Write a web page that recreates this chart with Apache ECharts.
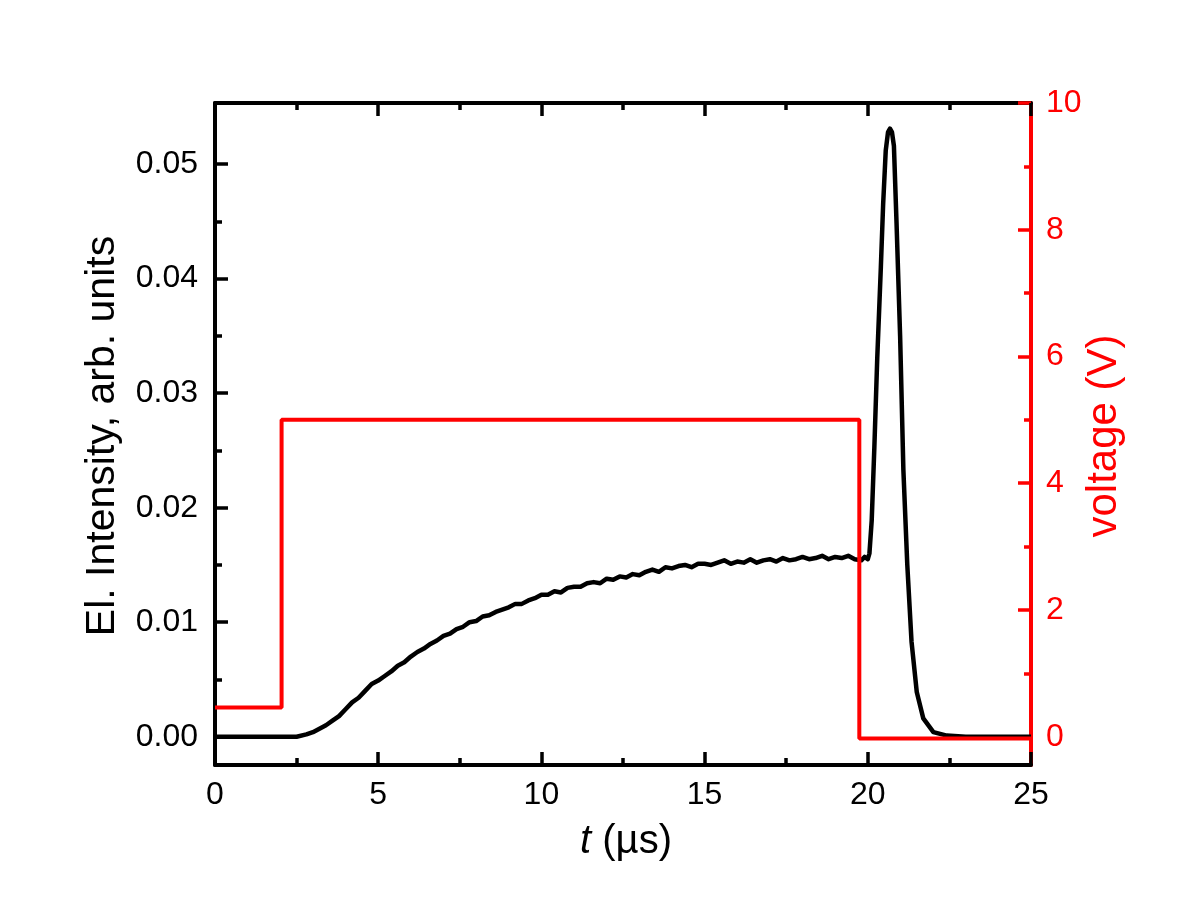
<!DOCTYPE html>
<html>
<head>
<meta charset="utf-8">
<script src="https://cdn.jsdelivr.net/npm/echarts@6/dist/echarts.min.js"></script>
<style>
html,body{margin:0;padding:0;background:#fff;}
#c{width:1200px;height:918px;}
</style>
</head>
<body>
<div id="c"></div>
<script>
// ---- data ----
var timeUs = [0,0.5,1,1.5,2,2.5,2.8,3.0,3.2,3.4,3.6,3.8,
  4.0,4.2,4.4,4.6,4.8,5.0,5.2,5.4,5.6,5.8,6.0,6.2,6.4,6.6,6.8,7.0,7.2,7.4,7.6,7.8,
  8.0,8.2,8.4,8.6,8.8,9.0,9.2,9.4,9.6,9.8,10.0,10.2,10.4,10.6,10.8,11.0,11.2,11.4,11.6,11.8,
  12.0,12.2,12.4,12.6,12.8,13.0,13.2,13.4,13.6,13.8,14.0,14.2,14.4,14.6,14.8,15.0,15.2,15.4,15.6,15.8,
  16.0,16.2,16.4,16.6,16.8,17.0,17.2,17.4,17.6,17.8,18.0,18.2,18.4,18.6,18.8,19.0,19.2,19.4,19.6,19.8,
  19.9,20.0,20.05,20.12,20.20,20.29,20.40,20.47,20.55,20.62,20.68,20.74,20.80,20.88,20.99,21.09,21.21,21.34,21.50,21.70,22.01,22.42,23.0,24.0,25.0];
var intensity = [0.0000,0.0000,0.0000,0.0000,0.0000,0.0000,0.0002,0.0004,0.0007,0.0010,0.0014,0.0018,
  0.0024,0.0030,0.0034,0.0040,0.0046,0.0049,0.0053,0.0057,0.0062,0.0065,0.0070,0.0074,0.0077,0.0081,0.0084,0.0088,0.0090,0.0094,0.0096,0.0100,
  0.0101,0.0105,0.0106,0.0109,0.0111,0.0113,0.0116,0.0116,0.0119,0.0121,0.0124,0.0124,0.0127,0.0126,0.0130,0.0131,0.0131,0.0134,0.0135,0.0134,
  0.0138,0.0137,0.0140,0.0139,0.0142,0.0141,0.0144,0.0146,0.0144,0.0148,0.0147,0.0149,0.0150,0.0148,0.0151,0.0151,0.0150,0.0152,0.0154,0.0151,
  0.0153,0.0152,0.0155,0.0152,0.0154,0.0155,0.0153,0.0156,0.0154,0.0155,0.0157,0.0155,0.0156,0.0158,0.0155,0.0157,0.0156,0.0158,0.0155,0.0154,
  0.0157,0.0155,0.0160,0.0189,0.0252,0.0331,0.0410,0.0465,0.0512,0.0528,0.0531,0.0528,0.0516,0.0449,0.0350,0.0233,0.0150,0.0083,0.0039,0.0016,0.0004,0.0001,0.0000,0.0000,0.0000];
var voltTime = [0, 2.04, 2.04, 19.74, 19.74, 25];
var voltage  = [0.46, 0.46, 5.0, 5.0, -0.03, -0.03];

var xTicks = [0, 5, 10, 15, 20, 25];
var xMinor = [2.5, 7.5, 12.5, 17.5, 22.5];
var leftTicks = [0, 0.01, 0.02, 0.03, 0.04, 0.05];
var leftMinor = [0.005, 0.015, 0.025, 0.035, 0.045];
var rightTicks = [0, 2, 4, 6, 8, 10];
var rightMinor = [1, 3, 5, 7, 9];

// ---- chart ----
var FONT = "'Liberation Sans', Arial, sans-serif";
var chart = echarts.init(document.getElementById('c'), null, {renderer: 'canvas'});

function zip(a, b) { return a.map(function (v, i) { return [v, b[i]]; }); }

// helper: an extra axis that only draws a set of inside ticks
function tickOnlyY(pos, min, max, values, len, color) {
  return {
    type: 'value', position: pos, min: min, max: max,
    axisLine: {show: false, onZero: false},
    axisTick: {show: true, inside: true, length: len, customValues: values, lineStyle: {color: color, width: 3.5}},
    axisLabel: {show: false}, splitLine: {show: false}
  };
}
function tickOnlyX(pos, values, len) {
  return {
    type: 'value', position: pos, min: 0, max: 25,
    axisLine: {show: false, onZero: false},
    axisTick: {show: true, inside: true, length: len, customValues: values, lineStyle: {color: '#000', width: 3.5}},
    axisLabel: {show: false}, splitLine: {show: false}
  };
}

var option = {
  animation: false,
  backgroundColor: '#fff',
  grid: {left: 215, right: 169, top: 103, bottom: 153, containLabel: false},
  xAxis: [
    {
      type: 'value', position: 'bottom', min: 0, max: 25,
      axisLine: {show: true, onZero: false, lineStyle: {color: '#000', width: 4}},
      axisTick: {show: false},
      axisLabel: {show: true, customValues: xTicks, color: '#000', fontSize: 32, fontFamily: FONT, margin: 14},
      splitLine: {show: false}
    },
    {
      type: 'value', position: 'top', min: 0, max: 25,
      axisLine: {show: true, onZero: false, lineStyle: {color: '#000', width: 4}},
      axisTick: {show: false}, axisLabel: {show: false}, splitLine: {show: false}
    },
    tickOnlyX('bottom', xTicks, 13),
    tickOnlyX('bottom', xMinor, 7),
    tickOnlyX('top', xTicks, 13),
    tickOnlyX('top', xMinor, 7)
  ],
  yAxis: [
    {
      type: 'value', position: 'left', min: -0.00247, max: 0.05534,
      axisLine: {show: true, onZero: false, lineStyle: {color: '#000', width: 4}},
      axisTick: {show: false},
      axisLabel: {show: true, customValues: leftTicks, color: '#000', fontSize: 32, fontFamily: FONT, margin: 17,
        formatter: function (v) { return v.toFixed(2); }},
      splitLine: {show: false}
    },
    {
      type: 'value', position: 'right', min: -0.447, max: 10,
      axisLine: {show: true, onZero: false, lineStyle: {color: '#ff0000', width: 4}},
      axisTick: {show: false},
      axisLabel: {show: true, customValues: rightTicks, color: '#ff0000', fontSize: 32, fontFamily: FONT, margin: 15},
      splitLine: {show: false}
    },
    tickOnlyY('left', -0.00247, 0.05534, leftTicks, 13, '#000'),
    tickOnlyY('left', -0.00247, 0.05534, leftMinor, 7, '#000'),
    tickOnlyY('right', -0.447, 10, rightTicks, 13, '#ff0000'),
    tickOnlyY('right', -0.447, 10, rightMinor, 7, '#ff0000')
  ],
  series: [
    {
      name: 'El. Intensity', type: 'line', xAxisIndex: 0, yAxisIndex: 0,
      data: zip(timeUs, intensity), showSymbol: false, symbol: 'none',
      lineStyle: {color: '#000', width: 4.5, join: 'round'}, z: 2
    },
    {
      name: 'voltage', type: 'line', xAxisIndex: 0, yAxisIndex: 1,
      data: zip(voltTime, voltage), showSymbol: false, symbol: 'none',
      lineStyle: {color: '#ff0000', width: 4}, z: 3
    }
  ],
  graphic: [
    {
      type: 'text', x: 103, y: 436, rotation: Math.PI / 2,
      style: {text: 'El. Intensity, arb. units', fill: '#000', fontSize: 41, fontFamily: FONT,
        align: 'center', verticalAlign: 'middle'}
    },
    {
      type: 'text', x: 1104, y: 436, rotation: Math.PI / 2,
      style: {text: 'voltage (V)', fill: '#ff0000', fontSize: 42, fontFamily: FONT,
        align: 'center', verticalAlign: 'middle'}
    },
    {
      type: 'text', x: 626, y: 842,
      style: {text: '{i|t} (µs)', fill: '#000', fontSize: 40, fontFamily: FONT,
        align: 'center', verticalAlign: 'middle',
        rich: {i: {fontStyle: 'italic', fontSize: 40, fontFamily: FONT, fill: '#000'}}}
    }
  ]
};
chart.setOption(option);
</script>
</body>
</html>
